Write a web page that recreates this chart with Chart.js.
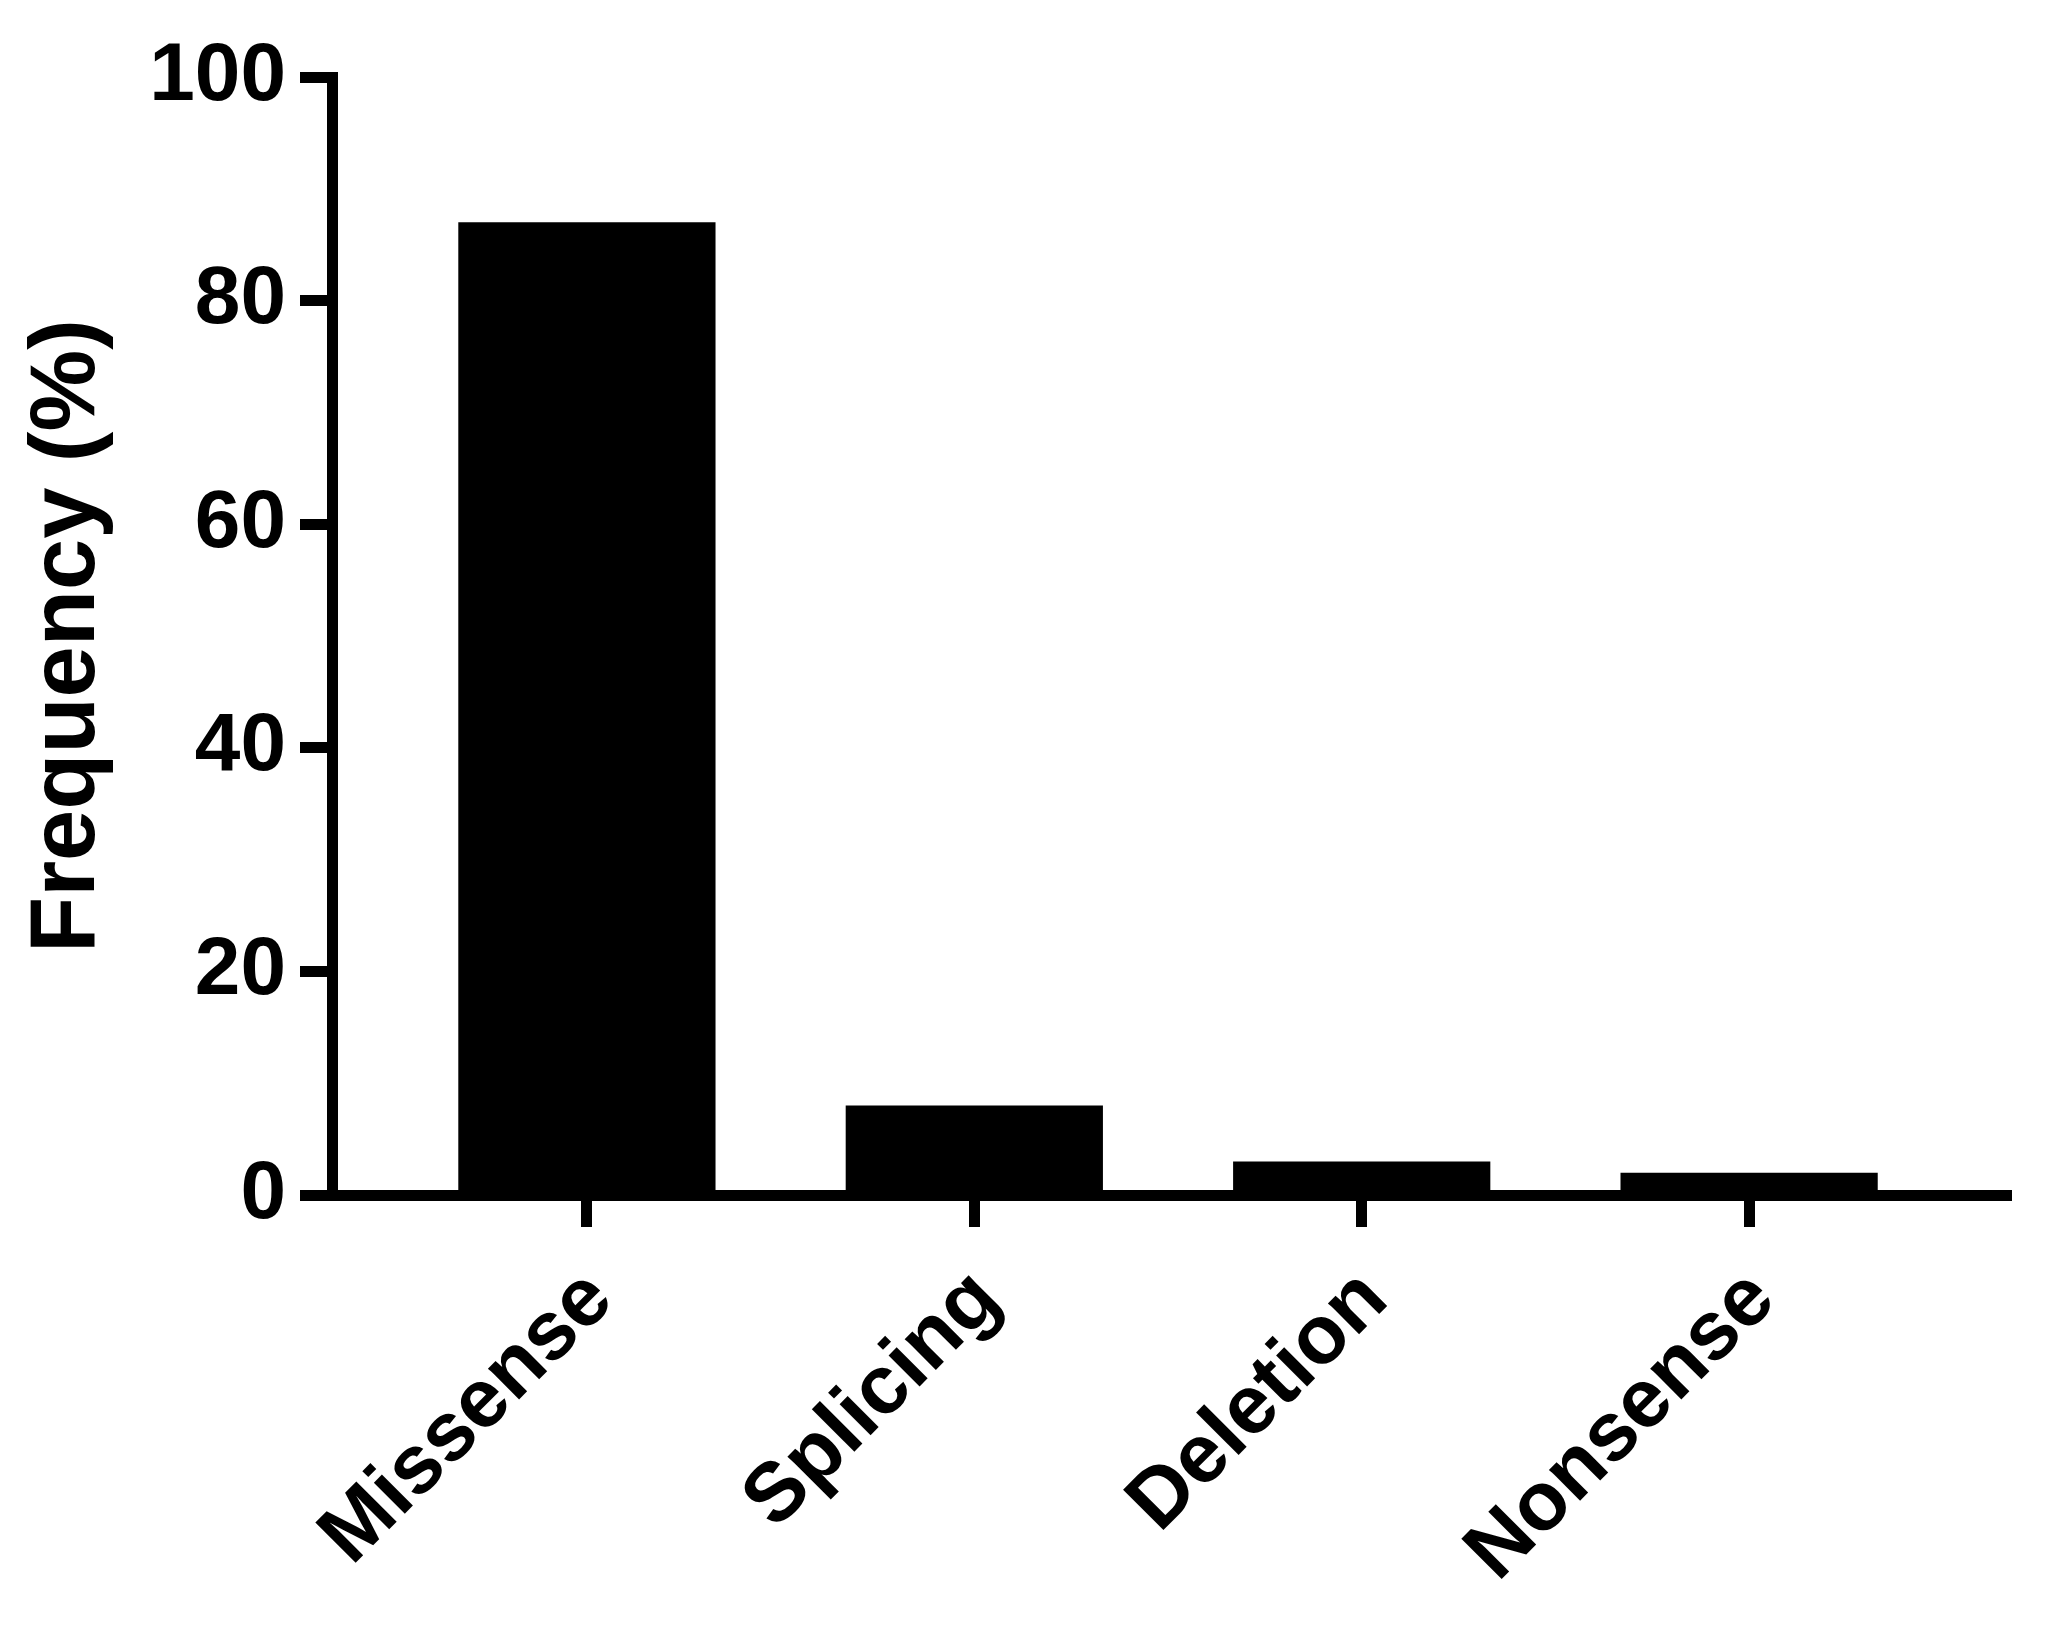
<!DOCTYPE html>
<html>
<head>
<meta charset="utf-8">
<title>Frequency (%)</title>
<script src="https://cdn.jsdelivr.net/npm/chart.js@4.4.1/dist/chart.umd.min.js"></script>
<style>
  html, body { margin: 0; padding: 0; background: #fff; }
  #wrap { width: 2057px; height: 1631px; }
</style>
</head>
<body>
<div id="wrap"><canvas id="freqChart"></canvas></div>
<script>
// data
const categories = ['Missense', 'Splicing', 'Deletion', 'Nonsense'];
const frequency = [87, 8, 3, 2];
const yTicks = [0, 20, 40, 60, 80, 100];

const FONT = '"Liberation Sans", Arial, Helvetica, sans-serif';
const AXIS_W = 11;
const TICK_LEN = 32;

// bars sit on a linear index axis so the gap at both ends can match the figure
const points = frequency.map((v, i) => ({ x: i, y: v }));

const ctx = document.getElementById('freqChart').getContext('2d');
const chart = new Chart(ctx, {
    type: 'bar',
    data: {
        datasets: [{
            label: 'Frequency (%)',
            data: points,
            backgroundColor: '#000',
            borderWidth: 0,
            barPercentage: 0.664,
            categoryPercentage: 1
        }]
    },
    options: {
        responsive: true,
        maintainAspectRatio: false,
        animation: false,
        layout: {
            padding: { left: 0, top: 77, right: 46, bottom: 0 }
        },
        plugins: {
            legend: { display: false },
            tooltip: { enabled: false }
        },
        scales: {
            x: {
                type: 'linear',
                offset: false,
                min: -0.658,
                max: 3.676,
                afterBuildTicks: scale => {
                    scale.ticks = categories.map((c, i) => ({ value: i }));
                },
                afterFit: scale => { scale.height = 436; },
                border: { display: true, color: '#000', width: AXIS_W },
                grid: {
                    display: true,
                    offset: false,
                    drawOnChartArea: false,
                    drawTicks: true,
                    tickLength: TICK_LEN,
                    tickWidth: AXIS_W,
                    tickColor: '#000'
                },
                ticks: {
                    autoSkip: false,
                    minRotation: 45,
                    maxRotation: 45,
                    padding: 24,
                    labelOffset: 13,
                    color: '#000',
                    font: { family: FONT, size: 83, weight: 'bold' },
                    callback: value => categories[value] ?? ''
                }
            },
            y: {
                min: 0,
                max: 100,
                afterBuildTicks: scale => {
                    scale.ticks = yTicks.map(v => ({ value: v }));
                },
                afterFit: scale => { scale.width = 332; },
                border: { display: true, color: '#000', width: AXIS_W },
                grid: {
                    display: true,
                    drawOnChartArea: false,
                    drawTicks: true,
                    tickLength: TICK_LEN,
                    tickWidth: AXIS_W,
                    tickColor: '#000'
                },
                ticks: {
                    padding: 14,
                    color: '#000',
                    font: { family: FONT, size: 82, weight: 'bold' }
                },
                title: {
                    display: true,
                    text: 'Frequency (%)',
                    color: '#000',
                    padding: { top: 13, bottom: 0 },
                    font: { family: FONT, size: 92, weight: 'bold' }
                }
            }
        }
    }
});
</script>
</body>
</html>
